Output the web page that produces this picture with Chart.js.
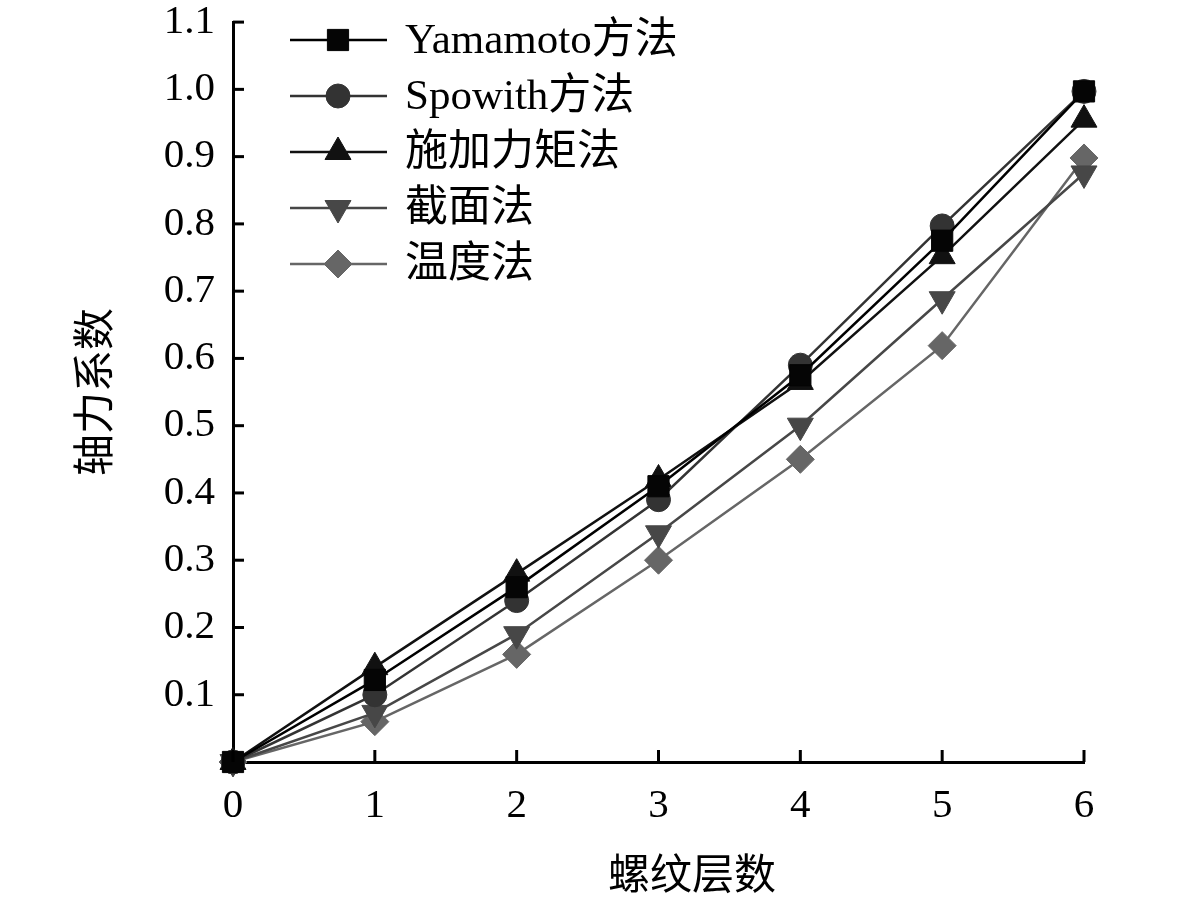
<!DOCTYPE html>
<html>
<head>
<meta charset="utf-8">
<script src="https://cdn.jsdelivr.net/npm/chart.js@4/dist/chart.umd.min.js"></script>
<style>
  html, body { margin: 0; padding: 0; background: #fff; }
  #wrap { width: 1181px; height: 906px; }
</style>
</head>
<body>
<div id="wrap"><canvas id="grafico" width="1181" height="906"></canvas></div>
<script>
// Datos
const capas = [0, 1, 2, 3, 4, 5, 6];
const yamamoto = [0, 0.122, 0.26, 0.41, 0.575, 0.775, 0.997];
const spowith = [0, 0.10, 0.24, 0.39, 0.59, 0.797, 0.997];
const momento = [0, 0.141, 0.28, 0.42, 0.565, 0.752, 0.955];
const seccion = [0, 0.073, 0.19, 0.34, 0.50, 0.688, 0.875];
const temperatura = [0, 0.06, 0.16, 0.30, 0.45, 0.619, 0.898];
const etiquetas = ['Yamamoto方法', 'Spowith方法', '施加力矩法', '截面法', '温度法'];
const ticksY = [0.1, 0.2, 0.3, 0.4, 0.5, 0.6, 0.7, 0.8, 0.9, 1.0, 1.1];
const tituloX = '螺纹层数';
const tituloY = '轴力系数';

const fuente = "'Liberation Serif', 'Noto Sans CJK SC', serif";

function puntos(valores) {
    return capas.map((x, i) => ({ x: x, y: valores[i] }));
}

const series = [
    { label: etiquetas[0], data: puntos(yamamoto), color: '#000000', marker: '#050505', estilo: 'rect', radio: 15 },
    { label: etiquetas[1], data: puntos(spowith), color: '#333333', marker: '#333333', estilo: 'circle', radio: 12 },
    { label: etiquetas[2], data: puntos(momento), color: '#111111', marker: '#111111', estilo: 'triangle', radio: 15 },
    { label: etiquetas[3], data: puntos(seccion), color: '#474747', marker: '#474747', estilo: 'triangle', radio: 15, rot: 180 },
    { label: etiquetas[4], data: puntos(temperatura), color: '#666666', marker: '#666666', estilo: 'rectRot', radio: 14 }
];

// Marcas de los ejes hacia adentro y título del eje X
const marcasInternas = {
    id: 'marcasInternas',
    afterDatasetsDraw(chart) {
        const ctx = chart.ctx;
        const x = chart.scales.x, y = chart.scales.y;
        ctx.save();
        ctx.strokeStyle = '#000';
        ctx.lineWidth = 3;
        ticksY.forEach(v => {
            const py = y.getPixelForValue(v);
            ctx.beginPath();
            ctx.moveTo(x.left, py);
            ctx.lineTo(x.left + 11, py);
            ctx.stroke();
        });
        capas.forEach(v => {
            const px = x.getPixelForValue(v);
            ctx.beginPath();
            ctx.moveTo(px, y.bottom);
            ctx.lineTo(px, y.bottom - 12);
            ctx.stroke();
        });
        ctx.fillStyle = '#000';
        ctx.font = '42px ' + fuente;
        ctx.textAlign = 'center';
        ctx.textBaseline = 'middle';
        ctx.fillText(tituloX, 692, 878);
        ctx.restore();
    }
};

// Leyenda dentro del área del gráfico
const leyenda = {
    id: 'leyenda',
    afterDraw(chart) {
        const ctx = chart.ctx;
        ctx.save();
        ctx.font = '43px ' + fuente;
        ctx.textBaseline = 'middle';
        chart.data.datasets.forEach((ds, i) => {
            const yy = 40 + i * 56;
            ctx.strokeStyle = ds.borderColor;
            ctx.lineWidth = 2.5;
            ctx.beginPath();
            ctx.moveTo(290, yy);
            ctx.lineTo(387, yy);
            ctx.stroke();
            ctx.fillStyle = ds.pointBackgroundColor;
            ctx.strokeStyle = ds.pointBorderColor;
            ctx.lineWidth = 1;
            Chart.helpers.drawPoint(ctx, {
                pointStyle: ds.pointStyle,
                radius: ds.pointRadius,
                rotation: ds.pointRotation || 0,
                borderWidth: 1
            }, 338, yy);
            ctx.fillStyle = '#000';
            ctx.fillText(ds.label, 405, yy + 2);
        });
        ctx.restore();
    }
};

document.addEventListener('DOMContentLoaded', () => {
    const ctx = document.getElementById('grafico').getContext('2d');
    new Chart(ctx, {
        type: 'line',
        data: {
            datasets: series.map(s => ({
                label: s.label,
                data: s.data,
                borderColor: s.color,
                borderWidth: 2.5,
                pointStyle: s.estilo,
                pointRadius: s.radio,
                pointRotation: s.rot || 0,
                pointBackgroundColor: s.marker,
                pointBorderColor: s.marker,
                pointBorderWidth: 1,
                tension: 0,
                fill: false,
                clip: false
            }))
        },
        options: {
            responsive: false,
            animation: false,
            layout: { padding: { left: 0, right: 97, top: 16, bottom: 0 } },
            plugins: {
                legend: { display: false },
                tooltip: { enabled: false }
            },
            scales: {
                x: {
                    type: 'linear',
                    min: 0,
                    max: 6,
                    afterFit: scale => { scale.height = 906 - 762; },
                    ticks: {
                        stepSize: 1,
                        color: '#000',
                        padding: 20,
                        font: { family: fuente, size: 41 }
                    },
                    grid: { drawOnChartArea: false, drawTicks: false },
                    border: { color: '#000', width: 3 }
                },
                y: {
                    min: 0,
                    max: 1.1,
                    afterFit: scale => { scale.width = 233; },
                    ticks: {
                        stepSize: 0.1,
                        autoSkip: false,
                        color: '#000',
                        padding: 18,
                        font: { family: fuente, size: 41, lineHeight: 0.2 },
                        callback: v => (Math.abs(v) < 1e-9 ? '' : Number(v).toFixed(1))
                    },
                    grid: { drawOnChartArea: false, drawTicks: false },
                    border: { color: '#000', width: 3 },
                    title: {
                        display: true,
                        text: tituloY,
                        color: '#000',
                        padding: { top: 73, bottom: 0 },
                        font: { family: fuente, size: 42 }
                    }
                }
            }
        },
        plugins: [marcasInternas, leyenda]
    });
});
</script>
</body>
</html>
